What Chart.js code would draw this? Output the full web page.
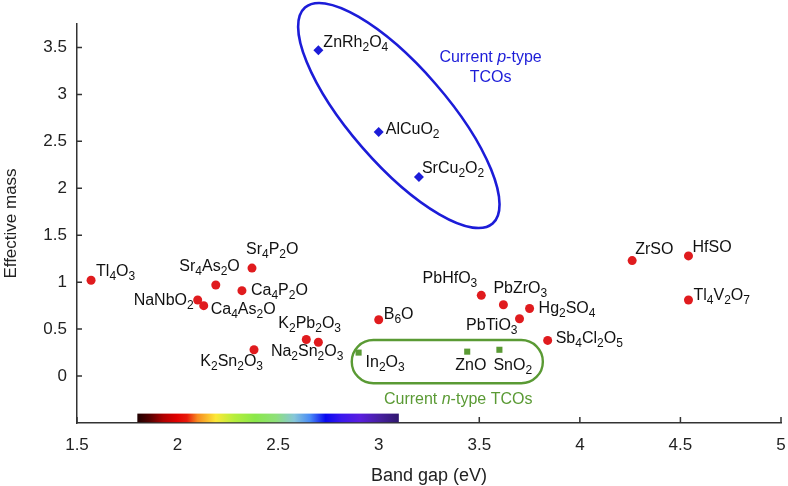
<!DOCTYPE html>
<html>
<head>
<meta charset="utf-8">
<script src="https://cdn.jsdelivr.net/npm/chart.js@4/dist/chart.umd.min.js"></script>
<style>
  body { margin: 0; background: #fff; }
  canvas { display: block; }
</style>
</head>
<body>
<canvas id="chart" width="788" height="486"></canvas>
<script>
// candidate oxides (red)
var candNames = ['Tl4O3', 'Sr4As2O', 'Sr4P2O', 'Ca4P2O', 'NaNbO2', 'Ca4As2O', 'K2Pb2O3', 'Na2Sn2O3', 'K2Sn2O3', 'B6O',
                 'PbHfO3', 'PbZrO3', 'Hg2SO4', 'PbTiO3', 'Sb4Cl2O5', 'ZrSO', 'HfSO', 'Tl4V2O7'];
var candGap  = [1.57, 2.19, 2.37, 2.32, 2.10, 2.13, 2.64, 2.70, 2.38, 3.00,
                3.51, 3.62, 3.75, 3.70, 3.84, 4.26, 4.54, 4.54];
var candMass = [1.02, 0.97, 1.15, 0.91, 0.81, 0.75, 0.39, 0.36, 0.28, 0.60,
                0.86, 0.76, 0.72, 0.61, 0.38, 1.23, 1.28, 0.81];
// current n-type TCOs (green)
var nNames = ['In2O3', 'ZnO', 'SnO2'];
var nGap   = [2.90, 3.44, 3.60];
var nMass  = [0.25, 0.26, 0.28];
// current p-type TCOs (blue)
var pNames = ['ZnRh2O4', 'AlCuO2', 'SrCu2O2'];
var pGap   = [2.70, 3.00, 3.20];
var pMass  = [3.47, 2.60, 2.12];

var xTickValues = [1.5, 2, 2.5, 3, 3.5, 4, 4.5, 5];
var yTickValues = [0, 0.5, 1, 1.5, 2, 2.5, 3, 3.5];
var visibleFrom = 1.8; // eV, visible spectrum bar
var visibleTo = 3.1;

// where each label sits relative to its marker: [align, dx, baseline dy]
var labelPlace = {
  'Tl4O3': ['left', 5, -4], 'Sr4As2O': ['right', 24, -14], 'Sr4P2O': ['left', -6, -14],
  'Ca4P2O': ['left', 9, 4], 'NaNbO2': ['right', -4, 5], 'Ca4As2O': ['left', 7, 8],
  'K2Pb2O3': ['left', -28, -11], 'Na2Sn2O3': ['right', 25, 14], 'K2Sn2O3': ['right', 9, 16],
  'B6O': ['left', 5, -1], 'PbHfO3': ['right', -4, -12], 'PbZrO3': ['left', -10, -12],
  'Hg2SO4': ['left', 9, 5], 'PbTiO3': ['right', -2, 11], 'Sb4Cl2O5': ['left', 8, 3],
  'ZrSO': ['left', 3, -7], 'HfSO': ['left', 4, -4], 'Tl4V2O7': ['left', 5, 0],
  'In2O3': ['left', 7, 14], 'ZnO': ['left', -12, 18], 'SnO2': ['left', -6, 20],
  'ZnRh2O4': ['left', 5, -3], 'AlCuO2': ['left', 7, 2], 'SrCu2O2': ['left', 3, -4]
};

var FONT = '"Liberation Sans", Arial, Helvetica, sans-serif';
var BLUE = '#1c1cd8';
var GREEN = '#5a9a34';

function pts(xs, ys) {
  return xs.map(function (x, i) { return { x: x, y: ys[i] }; });
}

// draw a formula, digits as subscripts
function drawFormula(ctx, text, x, y, align) {
  var runs = [];
  for (var i = 0; i < text.length; i++) {
    var sub = /\d/.test(text[i]);
    if (runs.length && runs[runs.length - 1].sub === sub) runs[runs.length - 1].t += text[i];
    else runs.push({ t: text[i], sub: sub });
  }
  var w = 0;
  runs.forEach(function (r) {
    ctx.font = (r.sub ? '12px ' : '16px ') + FONT;
    r.w = ctx.measureText(r.t).width;
    w += r.w;
  });
  var cx = align === 'right' ? x - w : (align === 'center' ? x - w / 2 : x);
  ctx.textBaseline = 'alphabetic';
  ctx.textAlign = 'left';
  runs.forEach(function (r) {
    ctx.font = (r.sub ? '12px ' : '16px ') + FONT;
    ctx.fillText(r.t, cx, r.sub ? y + 4 : y);
    cx += r.w;
  });
}

// text with one italic run, centered
function drawRuns(ctx, runs, x, y, color) {
  var w = 0;
  runs.forEach(function (r) {
    ctx.font = (r[1] ? 'italic ' : '') + '16px ' + FONT;
    w += ctx.measureText(r[0]).width;
  });
  var cx = x - w / 2;
  ctx.fillStyle = color;
  ctx.textAlign = 'left';
  ctx.textBaseline = 'alphabetic';
  runs.forEach(function (r) {
    ctx.font = (r[1] ? 'italic ' : '') + '16px ' + FONT;
    ctx.fillText(r[0], cx, y);
    cx += ctx.measureText(r[0]).width;
  });
}

var decor = {
  id: 'decor',
  afterDatasetsDraw: function (chart) {
    var ctx = chart.ctx;
    var xs = chart.scales.x, ys = chart.scales.y;
    var area = chart.chartArea;
    var kx = xs.getPixelForValue(1) - xs.getPixelForValue(0);
    ctx.save();

    // inward ticks
    ctx.strokeStyle = '#333';
    ctx.lineWidth = 1.5;
    ctx.beginPath();
    yTickValues.forEach(function (v) {
      var py = ys.getPixelForValue(v);
      ctx.moveTo(area.left, py); ctx.lineTo(area.left + 5, py);
    });
    xTickValues.forEach(function (v) {
      var px = xs.getPixelForValue(v);
      ctx.moveTo(px, area.bottom); ctx.lineTo(px, area.bottom - 6);
    });
    ctx.stroke();

    // visible spectrum bar
    var x0 = xs.getPixelForValue(visibleFrom), x1 = xs.getPixelForValue(visibleTo);
    var yTop = ys.getPixelForValue(-0.4);
    var g = ctx.createLinearGradient(x0, 0, x1, 0);
    var stops = [[0, '#1e0000'], [0.05, '#5a0000'], [0.1, '#b00000'], [0.15, '#e00000'],
                 [0.19, '#e81a0a'], [0.23, '#f78a20'], [0.3, '#fce838'], [0.37, '#b6ee3c'],
                 [0.45, '#8ae84a'], [0.53, '#8ee07a'], [0.6, '#86c6d8'], [0.66, '#4a8cf6'],
                 [0.72, '#0808f0'], [0.78, '#3a18ee'], [0.85, '#5a1ee0'], [0.93, '#46209e'],
                 [1, '#30186e']];
    stops.forEach(function (s) { g.addColorStop(s[0], s[1]); });
    ctx.fillStyle = g;
    ctx.fillRect(x0, yTop, x1 - x0, area.bottom - yTop - 0.75);

    // p-type ellipse
    ctx.strokeStyle = BLUE;
    ctx.lineWidth = 2.6;
    ctx.beginPath();
    ctx.ellipse(xs.getPixelForValue(3.1), ys.getPixelForValue(2.775), 0.711 * kx, 0.241 * kx,
                49 * Math.PI / 180, 0, Math.PI * 2);
    ctx.stroke();

    // n-type rounded box
    var bx0 = xs.getPixelForValue(2.866), bx1 = xs.getPixelForValue(3.816);
    var by0 = ys.getPixelForValue(0.384), by1 = ys.getPixelForValue(-0.077);
    ctx.strokeStyle = GREEN;
    ctx.lineWidth = 2.4;
    ctx.beginPath();
    ctx.roundRect(bx0, by0, bx1 - bx0, by1 - by0, (by1 - by0) / 2);
    ctx.stroke();

    drawRuns(ctx, [['Current ', false], ['p', true], ['-type', false]],
             xs.getPixelForValue(3.556), ys.getPixelForValue(3.345), BLUE);
    drawRuns(ctx, [['TCOs', false]], xs.getPixelForValue(3.556), ys.getPixelForValue(3.135), BLUE);
    drawRuns(ctx, [['Current ', false], ['n', true], ['-type TCOs', false]],
             xs.getPixelForValue(3.395), ys.getPixelForValue(-0.297), GREEN);

    // point labels
    ctx.fillStyle = '#111';
    [[candNames, candGap, candMass], [nNames, nGap, nMass], [pNames, pGap, pMass]].forEach(function (grp) {
      grp[0].forEach(function (name, i) {
        var p = labelPlace[name];
        drawFormula(ctx, name, xs.getPixelForValue(grp[1][i]) + p[1], ys.getPixelForValue(grp[2][i]) + p[2], p[0]);
      });
    });
    ctx.restore();
  }
};

new Chart(document.getElementById('chart'), {
  type: 'scatter',
  data: {
    datasets: [
      { label: 'candidates', data: pts(candGap, candMass), pointStyle: 'circle', pointRadius: 4.5,
        backgroundColor: '#e01b1e', borderWidth: 0 },
      { label: 'n-type', data: pts(nGap, nMass), pointStyle: 'rect', pointRadius: 4.3,
        backgroundColor: GREEN, borderWidth: 0 },
      { label: 'p-type', data: pts(pGap, pMass), pointStyle: 'rectRot', pointRadius: 5,
        backgroundColor: BLUE, borderWidth: 0 }
    ]
  },
  options: {
    responsive: false,
    animation: false,
    layout: { padding: { top: 24, right: 7, left: 0, bottom: 0 } },
    plugins: { legend: { display: false }, tooltip: { enabled: false } },
    scales: {
      x: {
        type: 'linear', min: 1.5, max: 5,
        afterFit: function (s) { s.height = 63; s.paddingRight = 0; },
        afterBuildTicks: function (s) { s.ticks = xTickValues.map(function (v) { return { value: v }; }); },
        grid: { display: false, drawTicks: false },
        border: { display: true, color: '#333', width: 1.5 },
        ticks: { padding: 12, color: '#222', font: { family: FONT, size: 17 },
                 callback: function (v) { return String(v); } },
        title: { display: true, text: 'Band gap (eV)', color: '#222', padding: { top: 0, bottom: -1 },
                 font: { family: FONT, size: 18 } }
      },
      y: {
        type: 'linear', min: -0.5, max: 3.75,
        afterFit: function (s) { s.width = 77; },
        afterBuildTicks: function (s) { s.ticks = yTickValues.map(function (v) { return { value: v }; }); },
        grid: { display: false, drawTicks: false },
        border: { display: true, color: '#333', width: 1.5 },
        ticks: { padding: 10, color: '#222', font: { family: FONT, size: 17 },
                 callback: function (v) { return String(v); } },
        title: { display: true, text: 'Effective mass', color: '#222', padding: { top: 1, bottom: 0 },
                 font: { family: FONT, size: 17 } }
      }
    }
  },
  plugins: [decor]
});
</script>
</body>
</html>
